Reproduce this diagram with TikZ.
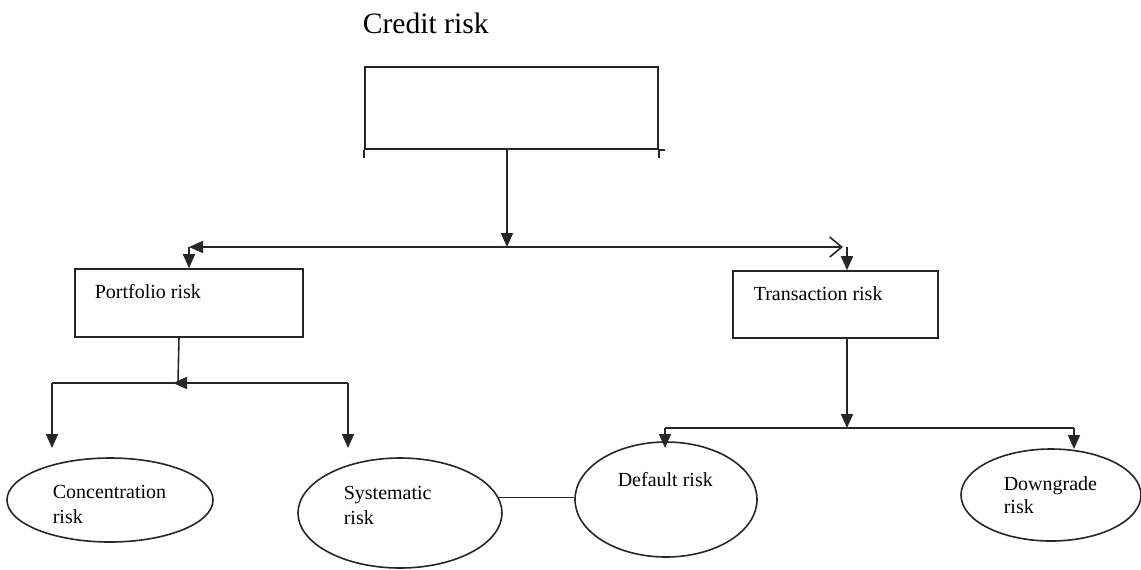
\documentclass[tikz,border=0pt]{standalone}
\usepackage{fontspec}
\setmainfont{Liberation Serif}
\usetikzlibrary{positioning}
\usetikzlibrary{arrows.meta}
\usetikzlibrary{shapes.geometric}

\begin{document}
\begin{tikzpicture}[x=0.5pt,y=-0.5pt,line width=0.8pt,draw=black!85,
  box/.style={draw,rectangle,inner sep=0pt},
  oval/.style={draw,ellipse,inner sep=0pt},
  lbl/.style={anchor=base west,inner sep=0pt,align=left,font=\fontsize{10}{12.5}\selectfont},
  tri/.style={-{Triangle[length=7pt,width=6pt]}},
  barb/.style={-{Straight Barb[length=6pt,width=10pt]}}]
  \useasboundingbox (0,0) rectangle (1141,569);
  % title and top box
  \node[anchor=base west,inner sep=0pt,font=\fontsize{14.8}{18}\selectfont] (title) at (362,33) {Credit risk};
  \node[box,minimum width=146.5pt,minimum height=41pt] (credit) at (511.5,108) {};
  \draw (credit.south west) -- ++(0,8);
  \draw (credit.south east) -- ++(6,0);
  \draw (credit.south east) -- ++(0,8);
  % second level
  \node[box,minimum width=114pt,minimum height=34pt] (portfolio) at (189,303) {};
  \node[lbl] (portfoliotxt) at (94,298) {Portfolio risk};
  \node[box,minimum width=102.5pt,minimum height=33.5pt] (transaction) at (835.5,304.5) {};
  \node[lbl] (transactiontxt) at (753,300) {Transaction risk};
  % ovals (two-line labels sit on the baseline of their last line)
  \node[oval,minimum width=103pt,minimum height=42pt] (conc) at (110,500) {};
  \node[lbl] (conctxt) at (52,523) {Concentration\\risk};
  \node[oval,minimum width=102pt,minimum height=55pt] (system) at (400,513) {};
  \node[lbl] (systemtxt) at (343,524) {Systematic\\risk};
  \node[oval,minimum width=91pt,minimum height=57.5pt] (default) at (666,499.5) {};
  \node[lbl] (defaulttxt) at (617,486) {Default risk};
  \node[oval,minimum width=90pt,minimum height=46pt] (downgrade) at (1051,495) {};
  \node[lbl,font=\fontsize{10}{11.5}\selectfont] (downgradetxt) at (1003,513) {Downgrade\\risk};
  % junctions
  \coordinate (split) at (507,247);
  \coordinate (lft) at (189,247);
  \coordinate (rgt) at (843,247);
  \coordinate (tdrop) at (847,247);
  \coordinate (pjoin) at (178,383);
  \coordinate (ptip) at (173,383);
  \coordinate (pleft) at (52,383);
  \coordinate (pright) at (348,383);
  \coordinate (tjoin) at (847,428);
  \coordinate (tleft) at (665,428);
  \coordinate (tright) at (1074,428);
  % connectors
  \draw[tri] (split |- credit.south) -- (split);
  \draw[tri] (split) -- (lft);
  \draw[barb] (split) -- (rgt);
  \draw[tri] (lft) -- (portfolio.north);
  \draw[tri] (tdrop) -- (tdrop |- transaction.north);
  \draw (179,337) -- (pjoin);
  \draw[tri] (pright) -- (ptip);
  \draw (pjoin) -- (pleft);
  \draw[tri] (pleft) -- ++(0,65);
  \draw[tri] (pright) -- ++(0,65);
  \draw[tri] (tjoin |- transaction.south) -- (tjoin);
  \draw (tleft) -- (tright);
  \draw[tri] (tleft) -- ++(0,20);
  \draw[tri] (tright) -- ++(0,21);
  \draw (system.9) -- (system.9 -| default.west);
\end{tikzpicture}
\end{document}
